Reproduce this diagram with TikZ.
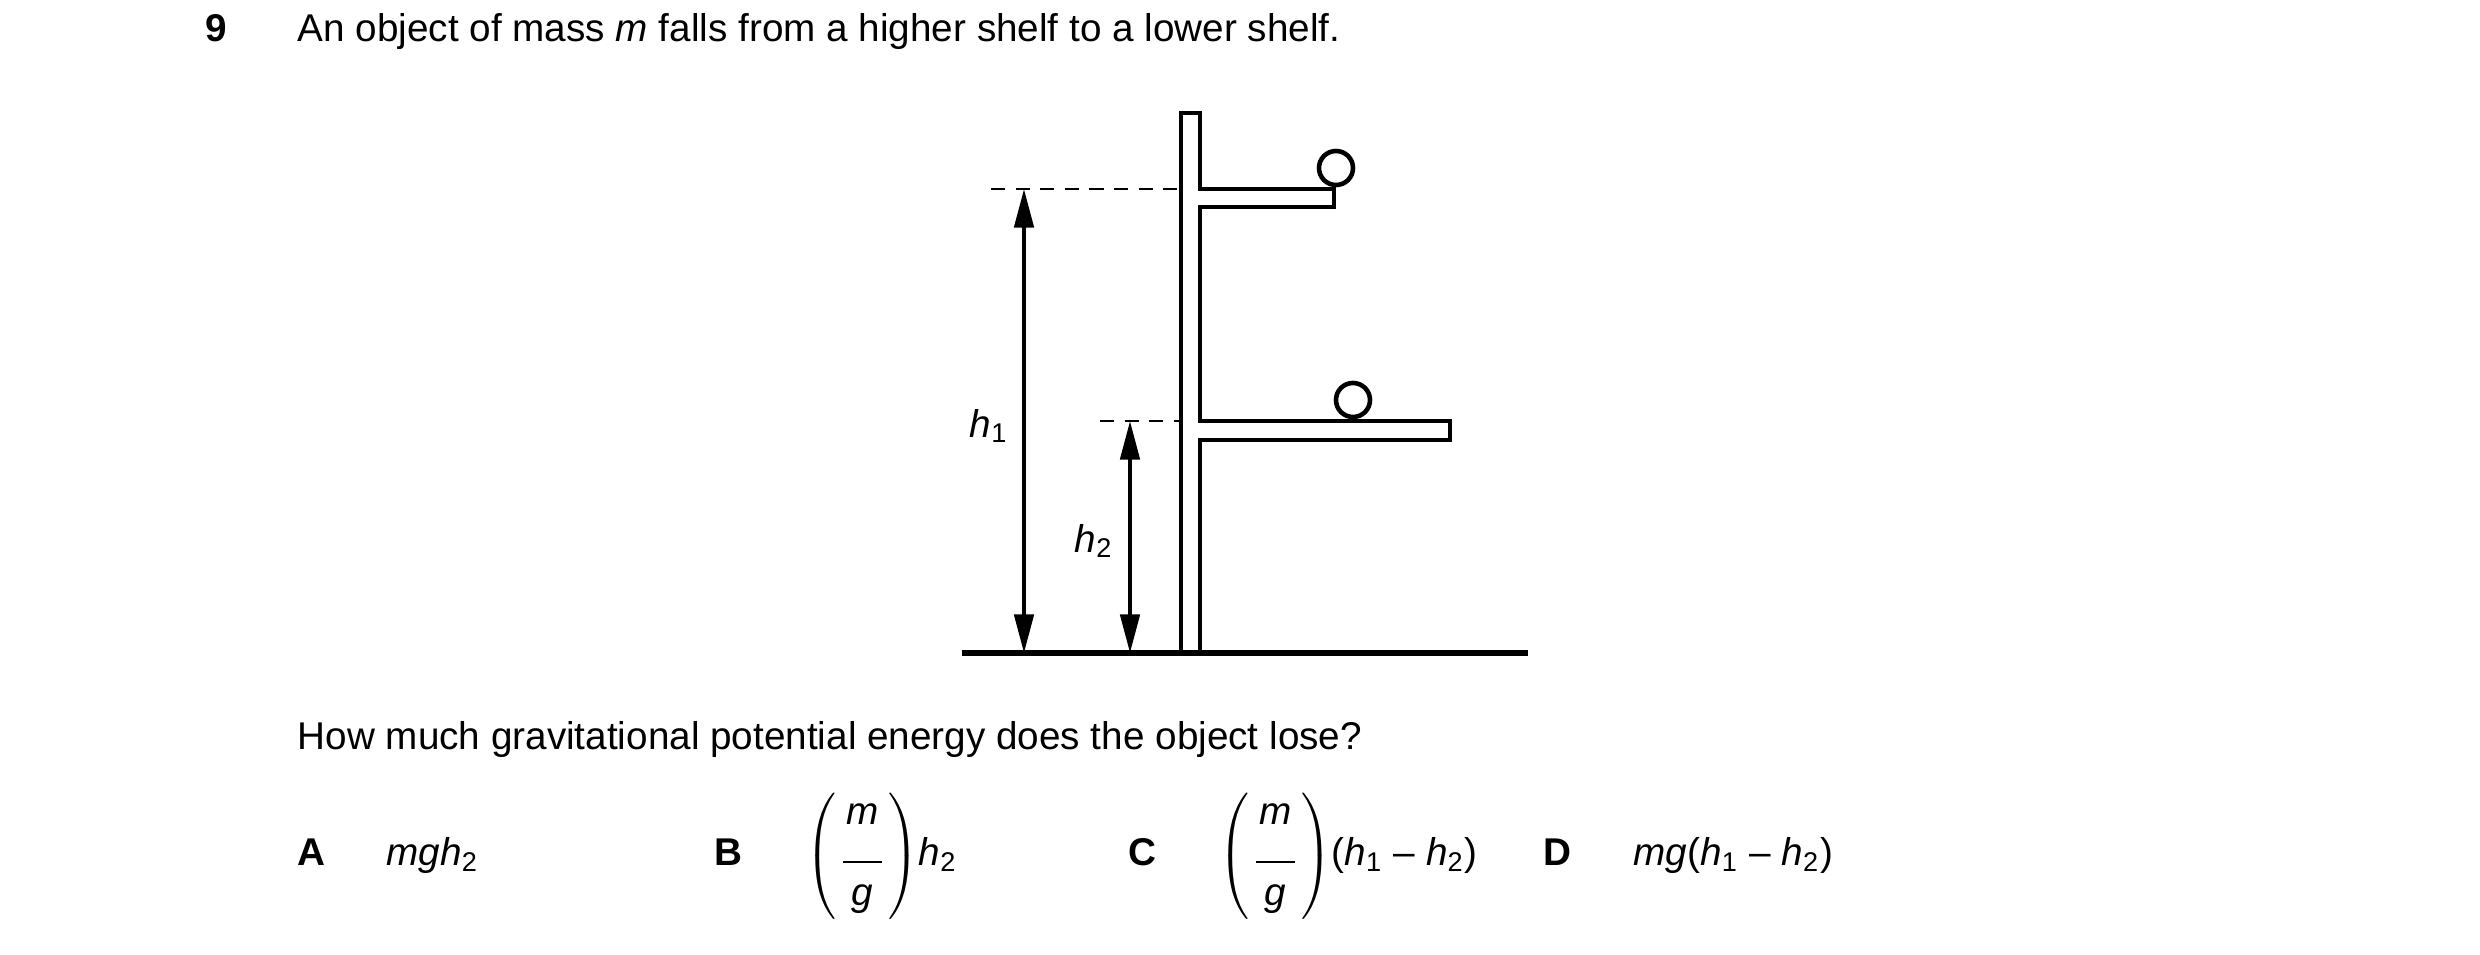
\documentclass[tikz,border=0pt]{standalone}
\usepackage{fontspec}
\setmainfont{Liberation Sans}
\usetikzlibrary{arrows.meta}
\begin{document}
\begin{tikzpicture}[x=0.01cm,y=-0.01cm,
  every node/.style={font=\fontsize{11}{13}\selectfont,inner sep=0pt},
  shelf/.style={line width=1.3pt,line join=miter},
  dim/.style={line width=1.1pt,{Triangle[length=11pt,width=5.5pt]}-{Triangle[length=11pt,width=5.5pt]}},
  dashln/.style={line width=0.6pt,dash pattern=on 4pt off 3pt},
  ball/.style={draw,circle,line width=1.3pt,minimum size=0.34cm}]
\useasboundingbox (0,0) rectangle (2480,955);
% text
\node[anchor=base west] (num) at (205,42) {\textbf{9}};
\node[anchor=base west] (q1) at (297,42) {An object of mass \textit{m} falls from a higher shelf to a lower shelf.};
\node[anchor=base west] (q2) at (297,750) {How much gravitational potential energy does the object lose?};
% structure
\draw[shelf] (1181,653) -- (1181,113) -- (1200,113) -- (1200,189) -- (1334,189) -- (1334,207) -- (1200,207)
  -- (1200,421) -- (1450,421) -- (1450,440) -- (1200,440) -- (1200,653);
\draw[line width=1.5pt] (962,653) -- (1528,653);
\node[ball] (b1) at (1336,168) {};
\node[ball] (b2) at (1353,400) {};
% dims
\coordinate (t1) at (1024,189); \coordinate (g1) at (1024,653);
\coordinate (t2) at (1130,421); \coordinate (g2) at (1130,653);
\draw[dashln] (991,189) -- (1181,189);
\draw[dashln] (1100,421) -- (1181,421);
\draw[dim] (t1) -- (g1);
\draw[dim] (t2) -- (g2);
\node (h1) at (989,426) {\textit{h}\textsubscript{1}};
\node (h2) at (1094,541) {\textit{h}\textsubscript{2}};
% answers
\newcommand\mgfrac{$\left(\vcenter{\hbox{\begin{tabular}{@{\,}c@{\,}}\textit{m}\\[-2pt]\rule{11pt}{0.6pt}\\[-1pt]\textit{g}\end{tabular}}}\right)$}
\node[anchor=base west] (A) at (297,866) {\textbf{A}};
\node[anchor=base west] (Aa) at (386,866) {\textit{mgh}\textsubscript{2}};
\node[anchor=base west] (B) at (714,866) {\textbf{B}};
\node[anchor=west] (Ba) at (805,856) {\mgfrac\textit{h}\textsubscript{2}};
\node[anchor=base west] (C) at (1128,866) {\textbf{C}};
\node[anchor=west] (Ca) at (1218,856) {\mgfrac(\textit{h}\textsubscript{1} – \textit{h}\textsubscript{2})};
\node[anchor=base west] (D) at (1543,866) {\textbf{D}};
\node[anchor=base west] (Da) at (1633,866) {\textit{mg}(\textit{h}\textsubscript{1} – \textit{h}\textsubscript{2})};
\end{tikzpicture}
\end{document}
